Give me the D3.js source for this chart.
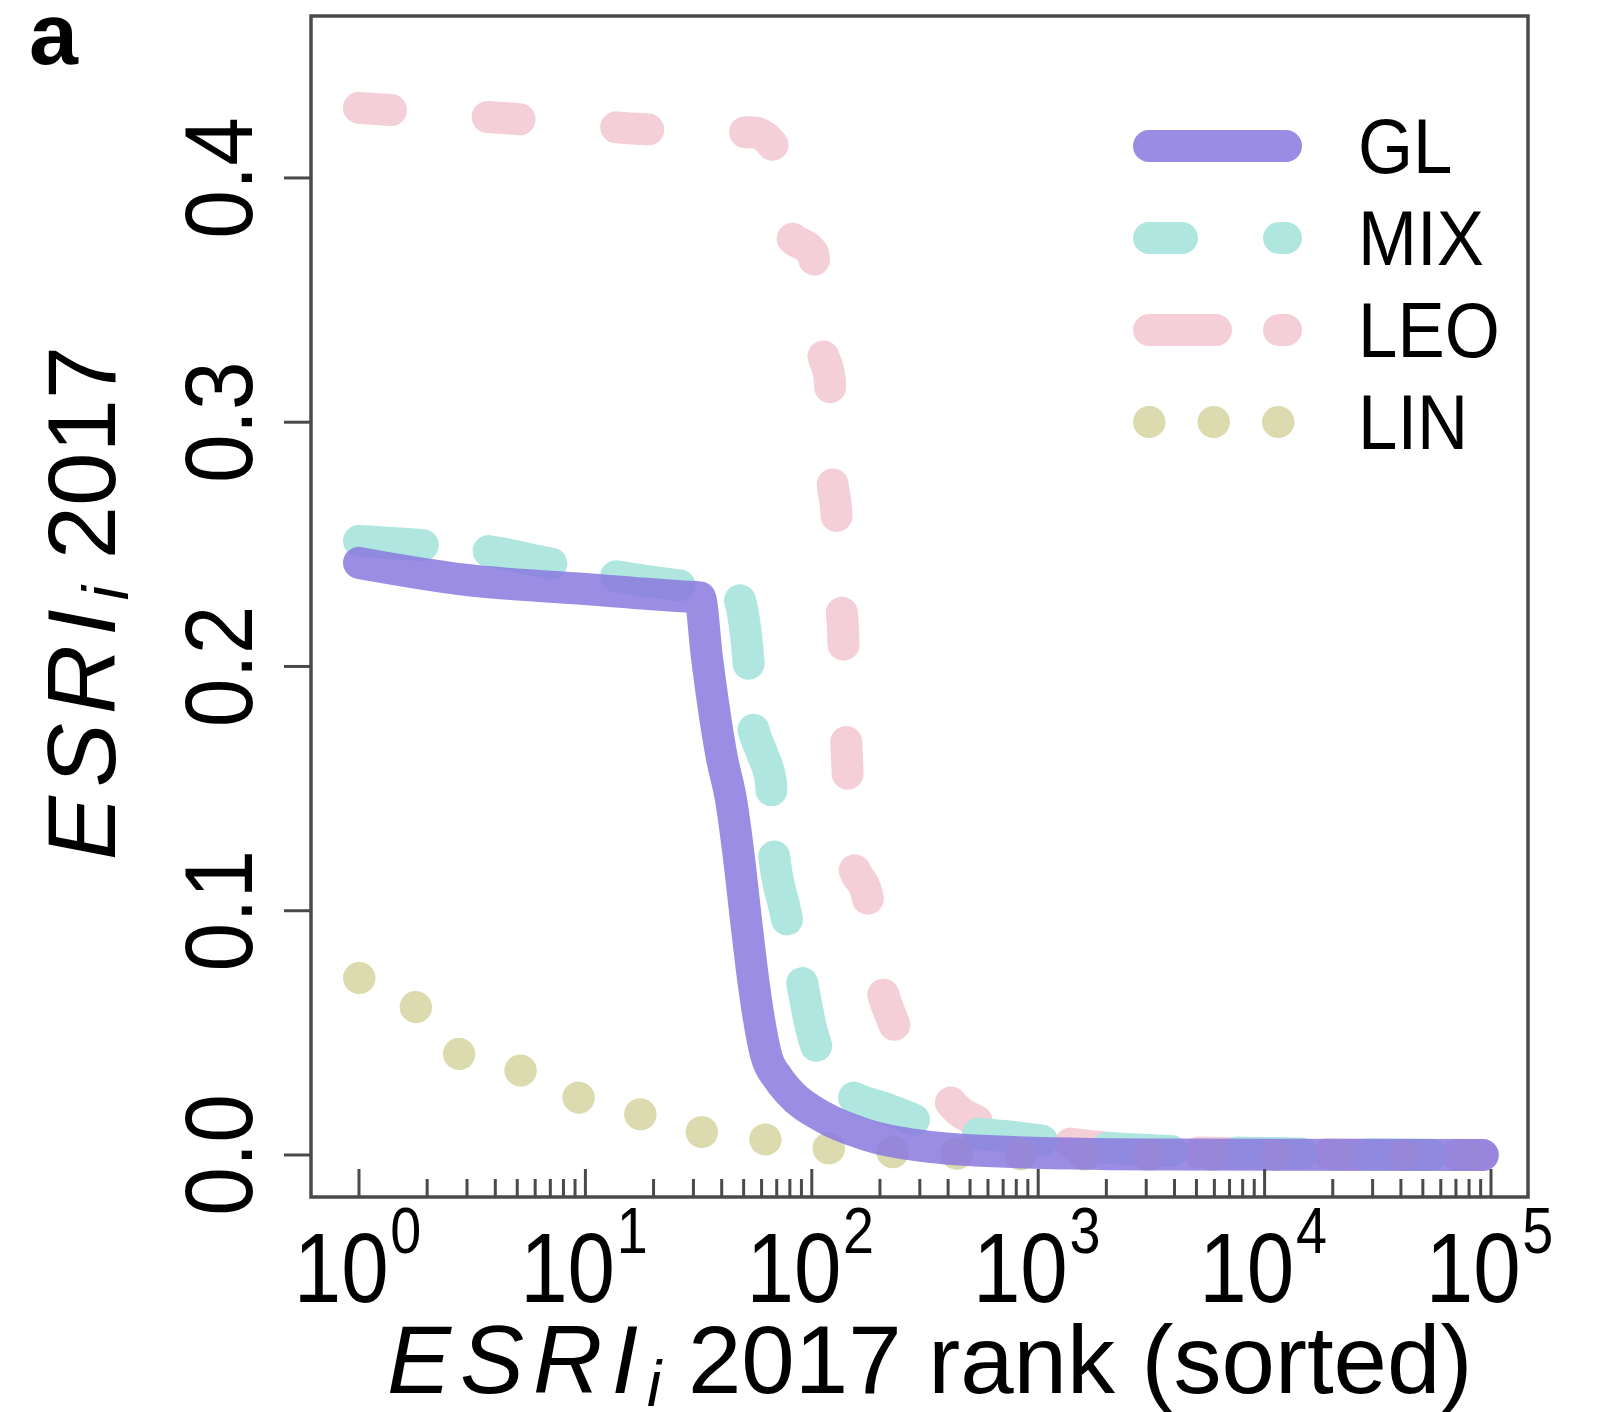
<!DOCTYPE html>
<html>
<head>
<meta charset="utf-8">
<script src="https://cdn.jsdelivr.net/npm/d3@7/dist/d3.min.js"></script>
<style>
  html, body { margin: 0; padding: 0; background: #ffffff; }
  svg { display: block; }
  text { font-family: "Liberation Sans", Arial, Helvetica, sans-serif; fill: #000; }
</style>
</head>
<body>
<svg id="chart" width="1598" height="1412"></svg>
<script>
// ---------------- data ----------------
const seriesNames = ["GL", "MIX", "LEO", "LIN"];

const glRank  = [1, 3, 10, 27, 32, 34.4, 40, 44, 48.2, 51.2, 54.4, 58.5, 62.8, 70.9, 80.1, 112, 175, 333, 774, 4000, 92000];
const glValue = [0.2424, 0.2354, 0.2317, 0.2287, 0.2283, 0.2039, 0.163, 0.1453, 0.118, 0.0962, 0.0757, 0.0553, 0.0409, 0.0315, 0.0254, 0.0156, 0.0082, 0.0033, 0.0012, 0.0002, 0.0];

const mixRank  = [1, 1.9, 3.7, 6.8, 13.5, 24.9, 44, 46.7, 52.3, 54.4, 60, 66, 67.5, 76, 88.8, 100, 137, 221, 370, 775, 2000, 10000, 92000];
const mixValue = [0.2514, 0.2497, 0.2473, 0.2424, 0.237, 0.2334, 0.231, 0.2297, 0.2043, 0.1777, 0.165, 0.1527, 0.1265, 0.1007, 0.0745, 0.0508, 0.0266, 0.0184, 0.011, 0.0074, 0.003, 0.0008, 0.0];

const leoRank  = [1, 5.7, 21.8, 55.6, 69.5, 80, 101, 111, 120, 123, 128, 134, 138, 141, 144, 152, 175, 204, 228, 376, 466, 1160, 3000, 10000, 92000];
const leoValue = [0.4287, 0.4237, 0.4195, 0.4186, 0.4115, 0.3767, 0.3693, 0.330, 0.3177, 0.278, 0.2645, 0.229, 0.21, 0.1765, 0.156, 0.1191, 0.1069, 0.068, 0.0549, 0.0258, 0.0168, 0.006, 0.002, 0.0005, 0.0];

const linRank  = [1, 1.78, 2.8, 5.1, 9.2, 16.7, 31, 59.7, 114, 221, 600, 3000, 10000, 92000];
const linValue = [0.0725, 0.0606, 0.0411, 0.0348, 0.0237, 0.0172, 0.0098, 0.0066, 0.0029, 0.0012, 0.0004, 0.0001, 0.0, 0.0];

const yTicks = [0.0, 0.1, 0.2, 0.3, 0.4];
const yTickLabels = ["0.0", "0.1", "0.2", "0.3", "0.4"];
const xTickExponents = [0, 1, 2, 3, 4, 5];

// ---------------- layout ----------------
const svg = d3.select("#chart");
const L = 311, R = 1528, T = 16, B = 1197;

const x = d3.scaleLog().domain([Math.pow(10, -0.212), Math.pow(10, 5.1634)]).range([L, R]);
const y = d3.scaleLinear().domain([-0.0172, 0.4663]).range([B, T]);

const colors = {
  GL: "rgb(137,120,223)",
  MIX: "#b0e6e0",
  LEO: "#f4cfd8",
  LIN: "#dcdbb0"
};
const lw = 32;

const zip = (r, v) => r.map((d, i) => ({ r: d, v: v[i] }));
const line = d3.line().x(d => x(d.r)).y(d => y(d.v)).curve(d3.curveMonotoneX);

const plot = svg.append("g");

// LEO
plot.append("path").datum(zip(leoRank, leoValue))
  .attr("d", line).attr("fill", "none")
  .attr("stroke", colors.LEO).attr("stroke-width", lw)
  .attr("stroke-linecap", "round").attr("stroke-linejoin", "round")
  .attr("stroke-dasharray", "32 97");

// MIX
plot.append("path").datum(zip(mixRank, mixValue))
  .attr("d", line).attr("fill", "none")
  .attr("stroke", colors.MIX).attr("stroke-width", lw)
  .attr("stroke-linecap", "round").attr("stroke-linejoin", "round")
  .attr("stroke-dasharray", "64 66");

// LIN
plot.append("path").datum(zip(linRank, linValue))
  .attr("d", line).attr("fill", "none")
  .attr("stroke", colors.LIN).attr("stroke-width", lw)
  .attr("stroke-linecap", "round").attr("stroke-linejoin", "round")
  .attr("stroke-dasharray", "0.5 63.5");

// GL
plot.append("path").datum(zip(glRank, glValue))
  .attr("d", line).attr("fill", "none")
  .attr("stroke", colors.GL).attr("stroke-opacity", 0.85).attr("stroke-width", lw)
  .attr("stroke-linecap", "round").attr("stroke-linejoin", "round");

// ---------------- frame & axes ----------------
const axisColor = "#4a4a4a";
svg.append("rect").attr("x", L).attr("y", T).attr("width", R - L).attr("height", B - T)
  .attr("fill", "none").attr("stroke", axisColor).attr("stroke-width", 3.5);

// y ticks (outward)
svg.append("g").selectAll("line").data(yTicks).join("line")
  .attr("x1", L - 27).attr("x2", L).attr("y1", d => y(d)).attr("y2", d => y(d))
  .attr("stroke", axisColor).attr("stroke-width", 3);

svg.append("g").selectAll("text").data(yTicks).join("text")
  .attr("transform", d => `translate(252,${y(d)}) rotate(-90) scale(0.91,1)`)
  .attr("text-anchor", "middle")
  .attr("font-size", 96)
  .text((d, i) => yTickLabels[i]);

// x ticks (inward), major + minor
const majors = xTickExponents.map(e => Math.pow(10, e));
const minors = [];
for (let e = 0; e < 5; e++) for (let m = 2; m <= 9; m++) minors.push(m * Math.pow(10, e));

svg.append("g").selectAll("line").data(minors).join("line")
  .attr("x1", d => x(d)).attr("x2", d => x(d)).attr("y1", B).attr("y2", B - 18)
  .attr("stroke", axisColor).attr("stroke-width", 3);
svg.append("g").selectAll("line").data(majors).join("line")
  .attr("x1", d => x(d)).attr("x2", d => x(d)).attr("y1", B).attr("y2", B - 28)
  .attr("stroke", axisColor).attr("stroke-width", 3);

const xl = svg.append("g").selectAll("g").data(xTickExponents).join("g")
  .attr("transform", d => `translate(${x(Math.pow(10, d))},1302) scale(0.87,1)`);
xl.append("text").attr("x", 34).attr("text-anchor", "end").attr("font-size", 98).text("10");
xl.append("text").attr("x", 36).attr("y", -49).attr("text-anchor", "start").attr("font-size", 64).text(d => String(d));

// ---------------- titles ----------------
const xt = svg.append("text").attr("x", 387).attr("y", 1393).attr("font-size", 96);
xt.append("tspan").attr("font-style", "italic").attr("letter-spacing", 9).text("ESRI");
xt.append("tspan").attr("font-style", "italic").attr("font-size", 64).attr("dy", 13).text("i");
xt.append("tspan").attr("dy", -13).text(" 2017 rank (sorted)");

const yt = svg.append("text").attr("transform", "translate(115,603) rotate(-90)")
  .attr("text-anchor", "middle").attr("font-size", 96);
yt.append("tspan").attr("font-style", "italic").attr("letter-spacing", 9).text("ESRI");
yt.append("tspan").attr("font-style", "italic").attr("font-size", 64).attr("dy", 13).text("i");
yt.append("tspan").attr("dy", -13).text(" 2017");

svg.append("text").attr("x", 29).attr("y", 64).attr("font-size", 88).attr("font-weight", "bold").text("a");

// ---------------- legend ----------------
const legendDash = { GL: null, MIX: "33 97", LEO: "67 63", LIN: "0.5 64" };
const legendY = [146, 238, 330, 422];
const legend = svg.append("g");
seriesNames.forEach((name, i) => {
  const ln = legend.append("line")
    .attr("x1", 1149).attr("x2", 1286).attr("y1", legendY[i]).attr("y2", legendY[i])
    .attr("stroke", colors[name]).attr("stroke-width", lw).attr("stroke-linecap", "round");
  if (name === "GL") ln.attr("stroke", "#9a8ce4");
  if (legendDash[name]) ln.attr("stroke-dasharray", legendDash[name]);
  legend.append("text")
    .attr("transform", `translate(1358,${legendY[i] + 27}) scale(0.92,1)`)
    .attr("font-size", 77).text(name);
});
</script>
</body>
</html>
